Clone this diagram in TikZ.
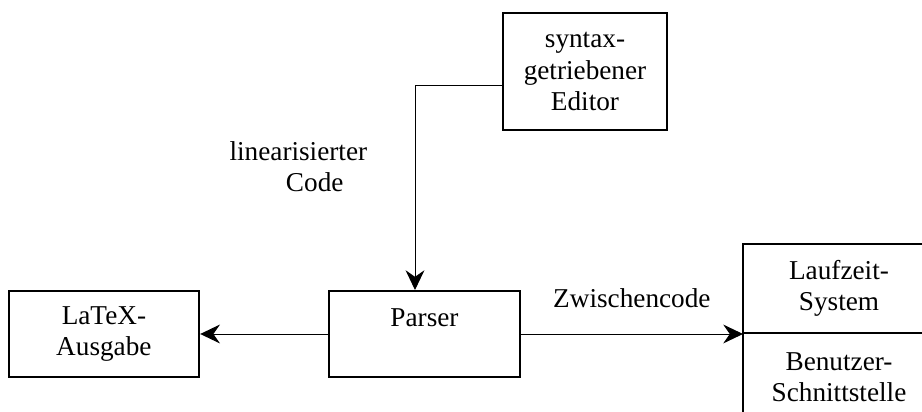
\documentclass[tikz,border=0pt]{standalone}
\usepackage{fontspec}
\setmainfont{Liberation Serif}
\usetikzlibrary{arrows.meta,calc,positioning}

\begin{document}
\begin{tikzpicture}[
  font=\fontsize{12.4pt}{14.2pt}\selectfont,
  >={Stealth[length=9pt,width=8.6pt,inset=3pt]},
  block/.style={draw,rectangle,line width=0.9pt,minimum width=3.05cm,
                minimum height=1.376cm,align=center},
  half/.style ={block,minimum width=3.072cm,minimum height=1.424cm,outer sep=0pt},
  link/.style ={line width=0.45pt},
  label/.style={align=center},
]

%% ============================================================
%% Frame: 14.75cm x 6.59cm, right box runs off the edge
%% ============================================================
\useasboundingbox (0,0) rectangle (14.752,6.592);
\clip (0,0) rectangle (14.752,6.592);

% --- Parser (centre), text sits in the upper part ---
\node[block,inner ysep=0pt,text height=0.576cm,text depth=0.8cm] (parser)
      at (6.792,1.248) {Parser};

% --- LaTeX output (left of parser) ---
\node[block,left=2.048cm of parser] (latex) {LaTeX-\\Ausgabe};

% --- Editor (top) ---
\node[block,minimum width=2.624cm,minimum height=1.872cm] (editor)
      at (9.36,5.448) {syntax-\\getriebener\\Editor};

% --- Runtime / user interface (right, two stacked halves) ---
\node[half] (laufzeit) at (13.424,1.976) {Laufzeit-\\System};
\node[half,below=0pt of laufzeit] (benutzer) {Benutzer-\\Schnittstelle};

% --- Connectors ---
\coordinate (edout) at ($(editor.west)+(0,-0.216)$);
\coordinate (parin) at ($(parser.north)+(-0.152,0)$);
\draw[link,->] (edout) -| node[pos=0.7,left=0.64cm,label]
      {linearisierter\\\hspace*{1.2em}Code} (parin);

\draw[link,->] (parser.west) -- (latex.east);
\draw[link,->] (parser.east) -- node[midway,above=0.29cm]{Zwischencode}
      (parser.east -| laufzeit.west);

\end{tikzpicture}
\end{document}
